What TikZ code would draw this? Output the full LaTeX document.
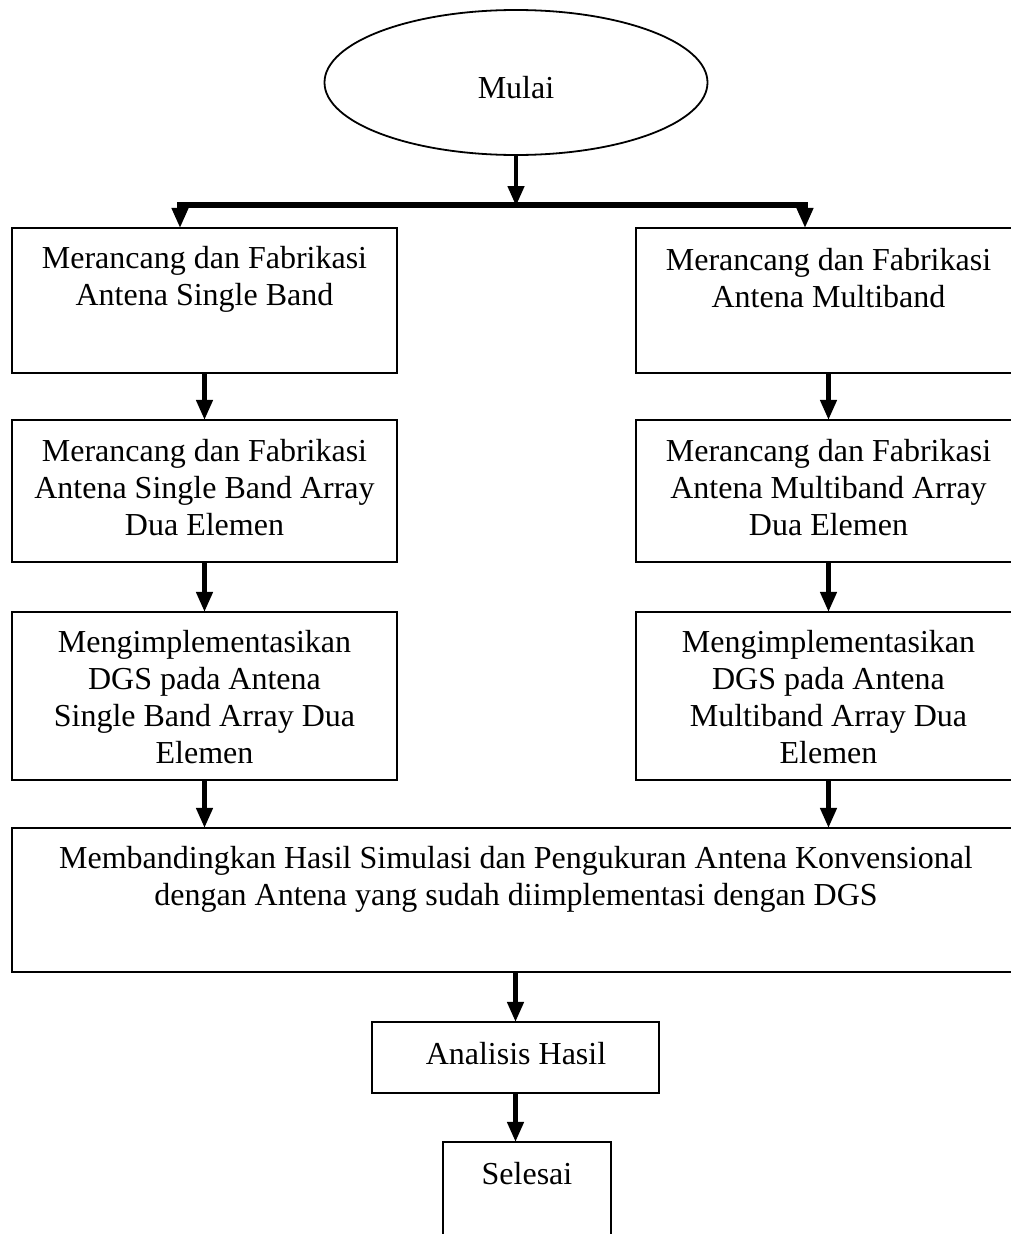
\documentclass[tikz,border=0pt]{standalone}
\usepackage{fontspec}
\setmainfont{Liberation Serif}
\usetikzlibrary{shapes.geometric,arrows.meta}
\begin{document}
\begin{tikzpicture}[x=1pt,y=-1pt,
  every node/.style={font=\fontsize{32}{37}\selectfont},
  boxst/.style={draw,line width=2.2pt,rectangle,inner sep=0pt},
  txt/.style={align=center,inner sep=0pt},
  arr/.style={line width=4.5pt,-{Triangle[length=20pt,width=16pt]},shorten >=-1pt},
  barst/.style={line width=6pt,line cap=rect}]
\clip (0,0) rectangle (1011,1234);
\fill[white] (0,0) rectangle (1011,1234);
% start
\node[draw,ellipse,line width=1.8pt,minimum width=383pt,minimum height=145pt,inner sep=0pt] (start) at (516,82.5) {};
\node[txt] (tstart) at (516,88) {Mulai};
% left column
\node[boxst,minimum width=385pt,minimum height=145pt] (L1) at (204.5,300.5) {};
\node[txt] (tL1) at (204.5,279) {Merancang dan Fabrikasi\\Antena Single Band};
\node[boxst,minimum width=385pt,minimum height=142pt] (L2) at (204.5,491) {};
\node[txt] (tL2) at (204.5,488) {Merancang dan Fabrikasi\\Antena Single Band Array\\Dua Elemen};
\node[boxst,minimum width=385pt,minimum height=168pt] (L3) at (204.5,696) {};
\node[txt] (tL3) at (204.5,697) {Mengimplementasikan\\DGS pada Antena\\Single Band Array Dua\\Elemen};
% right column
\node[boxst,minimum width=385pt,minimum height=145pt] (R1) at (828.5,300.5) {};
\node[txt] (tR1) at (828.5,278) {Merancang dan Fabrikasi\\Antena Multiband};
\node[boxst,minimum width=385pt,minimum height=142pt] (R2) at (828.5,491) {};
\node[txt] (tR2) at (828.5,488) {Merancang dan Fabrikasi\\Antena Multiband Array\\Dua Elemen};
\node[boxst,minimum width=385pt,minimum height=168pt] (R3) at (828.5,696) {};
\node[txt] (tR3) at (828.5,697) {Mengimplementasikan\\DGS pada Antena\\Multiband Array Dua\\Elemen};
% compare
\node[boxst,minimum width=1009pt,minimum height=144pt] (cmp) at (516.5,900) {};
\node[txt] (tcmp) at (516,879.5) {Membandingkan Hasil Simulasi dan Pengukuran Antena Konvensional\\dengan Antena yang sudah diimplementasi dengan DGS};
% analysis
\node[boxst,minimum width=287pt,minimum height=71pt] (ana) at (515.5,1057.5) {};
\node[txt] (tana) at (516,1054) {Analisis Hasil};
% end
\node[boxst,minimum width=168pt,minimum height=200pt] (fin) at (527,1242) {};
\node[txt] (tfin) at (527,1174) {Selesai};
% split bar
\coordinate (bar) at (516,205);
\coordinate (barL) at (180,205);
\coordinate (barR) at (805,205);
\draw[arr] (start.south) -- (bar);
\draw[barst] (barL) -- (barR);
\draw[arr] (barL) -- (barL |- L1.north);
\draw[arr] (barR) -- (barR |- R1.north);
% column arrows
\draw[arr] (L1.south) -- (L2.north);
\draw[arr] (L2.south) -- (L3.north);
\draw[arr] (L3.south) -- (L3.south |- cmp.north);
\draw[arr] (R1.south) -- (R2.north);
\draw[arr] (R2.south) -- (R3.north);
\draw[arr] (R3.south) -- (R3.south |- cmp.north);
\draw[arr] (cmp.south -| ana.north) -- (ana.north);
\draw[arr] (ana.south) -- (ana.south |- fin.north);
\end{tikzpicture}
\end{document}
